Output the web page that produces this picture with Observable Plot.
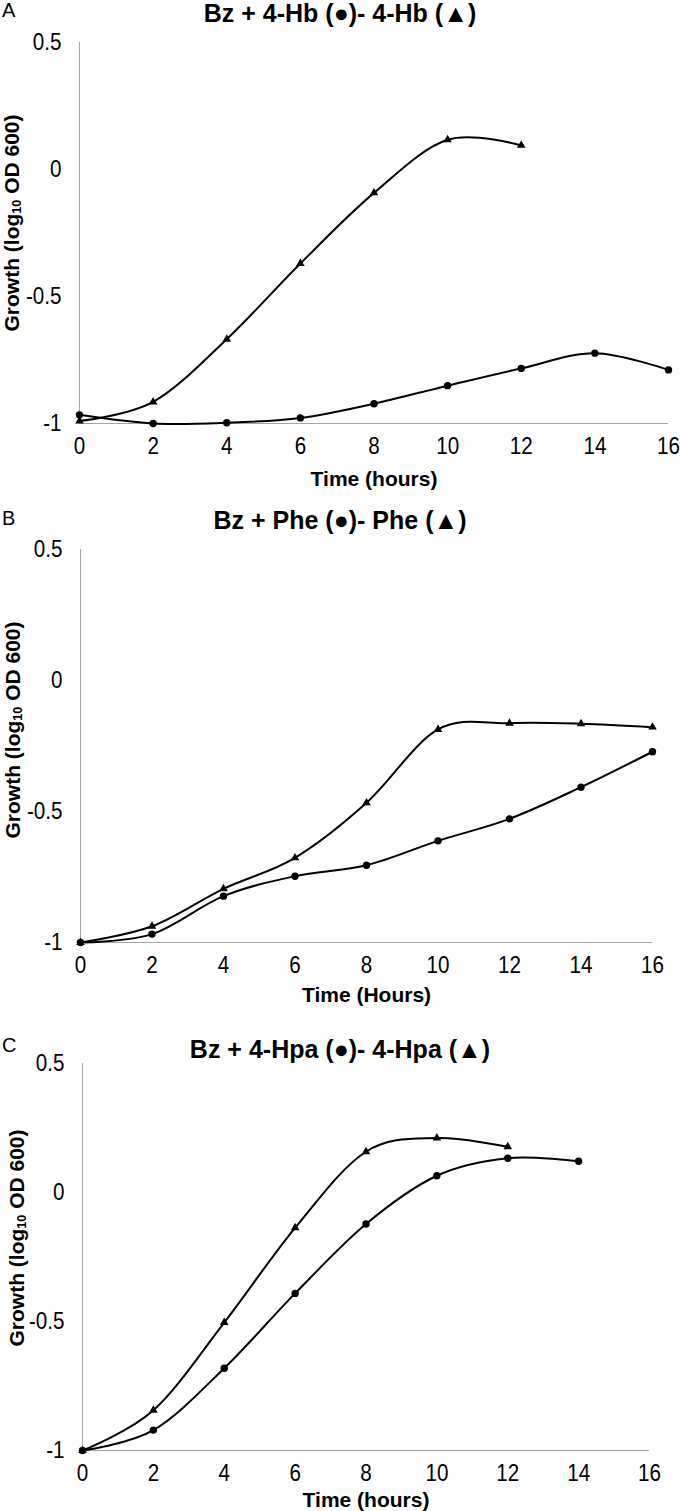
<!DOCTYPE html>
<html><head><meta charset="utf-8">
<script src="https://cdn.jsdelivr.net/npm/d3@7"></script>
<script src="https://cdn.jsdelivr.net/npm/@observablehq/plot@0.6"></script>
<style>
body{margin:0;background:#fff;}
#root{position:relative;width:680px;height:1511px;color:#000;overflow:hidden;font-family:"Liberation Sans",Arial,sans-serif;}
.panel{position:absolute;left:0;}
.letter{position:absolute;left:2px;white-space:nowrap;font-size:20px;line-height:20px;}
.title{position:absolute;left:0;width:680px;text-align:center;font-weight:bold;white-space:nowrap;font-size:25px;line-height:26px;}
.ylab{position:absolute;left:0;top:0;font-weight:bold;white-space:nowrap;transform-origin:0 0;font-size:21px;line-height:22px;}
.ylab sub{font-size:0.6em;vertical-align:-0.15em;line-height:0;}
</style></head>
<body>
<div id="root"></div>
<script>
// ---- data ----
const hours = [0, 2, 4, 6, 8, 10, 12, 14, 16];
const xTicks = [0, 2, 4, 6, 8, 10, 12, 14, 16];
const yTicks = [-1, -0.5, 0, 0.5];
const panelLetters = ["A", "B", "C"];
const titles = ["Bz + 4-Hb (\u25CF)- 4-Hb (\u25B2)", "Bz + Phe (\u25CF)- Phe (\u25B2)", "Bz + 4-Hpa (\u25CF)- 4-Hpa (\u25B2)"];
const xLabels = ["Time (hours)", "Time (Hours)", "Time (hours)"];

// A: Bz + 4-Hb (circles) and 4-Hb (triangles)
const hbWithBz = [-0.966, -1.0, -0.997, -0.978, -0.922, -0.851, -0.783, -0.723, -0.789];
const hbAlone = [-0.99, -0.915, -0.668, -0.370, -0.092, 0.117, 0.095];
// B: Bz + Phe (circles) and Phe (triangles)
const pheWithBz = [-1.0, -0.968, -0.823, -0.747, -0.705, -0.612, -0.528, -0.407, -0.272];
const pheAlone = [-1.0, -0.938, -0.795, -0.677, -0.467, -0.187, -0.163, -0.165, -0.178];
// C: Bz + 4-Hpa (circles) and 4-Hpa (triangles)
const hpaWithBz = [-1.0, -0.921, -0.681, -0.391, -0.122, 0.065, 0.133, 0.121];
const hpaAlone = [-1.0, -0.844, -0.504, -0.137, 0.158, 0.211, 0.177];

const circleSeries = [hbWithBz, pheWithBz, hpaWithBz];
const triangleSeries = [hbAlone, pheAlone, hpaAlone];

const font = '"Liberation Sans", Arial, sans-serif';
const tickSize = 24;      // tick label font size
const narrowScale = 0.86; // horizontal squeeze to mimic the narrow face of the original

// ---- layout (page px) ----
const layout = [
  {svgTop: 0,    svgH: 500, top: 42,   bottom: 423,  left: 79, right: 668, titleY: 13,   letterY: 10,   ylabX: 12, ylabY: 223,  xlabDy: 56},
  {svgTop: 500,  svgH: 510, top: 549,  bottom: 942,  left: 80, right: 652, titleY: 520,  letterY: 518,  ylabX: 13, ylabY: 730,  xlabDy: 53},
  {svgTop: 1010, svgH: 501, top: 1063, bottom: 1450, left: 82, right: 649, titleY: 1049, letterY: 1045, ylabX: 17, ylabY: 1238, xlabDy: 50}
];

const root = document.getElementById("root");

layout.forEach((L, i) => {
  const circ = circleSeries[i].map((v, j) => ({t: hours[j], v}));
  const tri = triangleSeries[i].map((v, j) => ({t: hours[j], v}));
  const chart = Plot.plot({
    width: 680,
    height: L.svgH,
    marginTop: L.top - L.svgTop,
    marginBottom: L.svgTop + L.svgH - L.bottom,
    marginLeft: L.left,
    marginRight: 680 - L.right,
    style: {fontFamily: font, fontSize: tickSize + "px", color: "#000", background: "transparent", overflow: "visible"},
    x: {domain: [0, 16]},
    y: {domain: [-1, 0.5]},
    marks: [
      Plot.ruleX([0], {stroke: "#a6a6a6", strokeWidth: 1}),
      Plot.ruleY([-1], {stroke: "#a6a6a6", strokeWidth: 1}),
      Plot.axisX({ticks: xTicks, tickSize: 0, tickPadding: 13, label: null, fontSize: tickSize, tickFormat: d => String(d)}),
      Plot.axisY({ticks: yTicks, tickSize: 0, tickPadding: 18, label: null, fontSize: tickSize, tickFormat: d => String(d)}),
      Plot.line(tri, {x: "t", y: "v", curve: "cardinal", tension: 0, stroke: "#000", strokeWidth: 2}),
      Plot.line(circ, {x: "t", y: "v", curve: "cardinal", tension: 0, stroke: "#000", strokeWidth: 2}),
      Plot.dot(tri, {x: "t", y: "v", symbol: "triangle", r: 3.2, fill: "#000", stroke: "none"}),
      Plot.dot(circ, {x: "t", y: "v", symbol: "circle", r: 3.7, fill: "#000", stroke: "none"}),
      Plot.text([xLabels[i]], {frameAnchor: "bottom", dy: L.xlabDy, text: d => d, fontWeight: "bold", fontSize: 21, lineAnchor: "middle"})
    ]
  });
  // squeeze tick labels horizontally about their anchor points
  chart.querySelectorAll('g[aria-label$="tick label"] text').forEach(el => {
    const tr = el.getAttribute("transform") || "";
    el.setAttribute("transform", (tr + ` scale(${narrowScale},1)`).trim());
  });
  chart.classList.add("panel");
  chart.style.top = L.svgTop + "px";
  root.appendChild(chart);

  const t = document.createElement("div");
  t.className = "title";
  t.style.top = (L.titleY - 13) + "px";
  t.textContent = titles[i];
  root.appendChild(t);

  const lt = document.createElement("div");
  lt.className = "letter";
  lt.style.top = (L.letterY - 10) + "px";
  lt.textContent = panelLetters[i];
  root.appendChild(lt);

  const yl = document.createElement("div");
  yl.className = "ylab";
  yl.innerHTML = "Growth (log<sub>10</sub> OD 600)";
  root.appendChild(yl);
  const w = yl.offsetWidth, h = yl.offsetHeight;
  yl.style.transform = `translate(${L.ylabX - h / 2}px, ${L.ylabY + w / 2}px) rotate(-90deg)`;
});
</script>
</body></html>
